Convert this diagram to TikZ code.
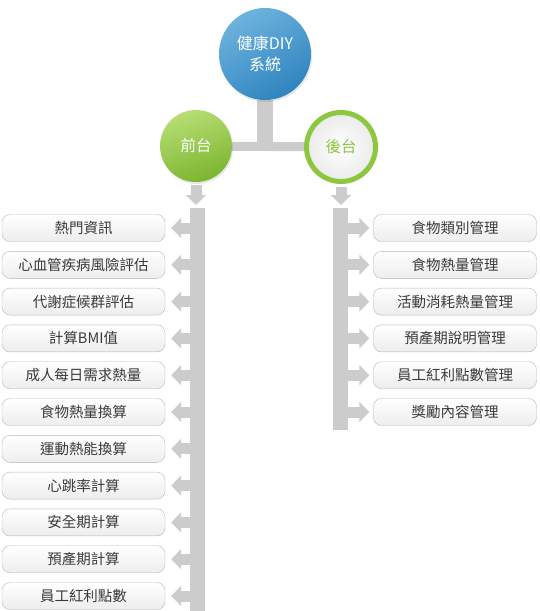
\documentclass[tikz,border=0pt]{standalone}
\usepackage{fontspec}
\setmainfont{Noto Sans CJK TC}
\usetikzlibrary{arrows.meta,shadows,backgrounds}
\definecolor{sysblue}{HTML}{6DB3DD}
\definecolor{sysbluedark}{HTML}{2F84C0}
\definecolor{greenlight}{HTML}{B7DE74}
\definecolor{greendark}{HTML}{7AB52F}
\definecolor{ringgreen}{HTML}{8DC63F}
\definecolor{bargray}{HTML}{CCCCCC}
\definecolor{boxgray}{HTML}{B5B5B5}
\definecolor{textgray}{HTML}{3A3A3A}

\tikzset{
	menubox/.style={draw=boxgray, rounded corners=8pt, minimum width=163pt, minimum height=27pt,
		inner sep=0pt, top color=white, bottom color=black!7, text=textgray,
		font=\fontsize{14.5}{15}\selectfont},
	barline/.style={draw=bargray, line width=15pt},
	blockarrow/.style={draw=bargray, line width=11pt, -{Triangle[width=20pt,length=10pt]}},
}

\begin{document}
\begin{tikzpicture}[x=1pt,y=-1pt,every node/.style={black}]
	\useasboundingbox (0,0) rectangle (539,611);

	% circles
	\node[circle, minimum size=92pt, inner sep=0pt, top color=sysblue, bottom color=sysbluedark,
		shading angle=30, text=white, align=center, font=\fontsize{16}{21}\selectfont,
		drop shadow={shadow xshift=1pt, shadow yshift=-2pt, opacity=0.2}]
		(sys) at (265,54) {健康DIY\\系統};
	\node[circle, minimum size=72pt, inner sep=0pt, top color=greenlight, bottom color=greendark,
		shading angle=20, text=white, font=\fontsize{15.5}{16}\selectfont,
		drop shadow={shadow xshift=1pt, shadow yshift=-2pt, opacity=0.2}]
		(fore) at (196,146) {前台};
	\node[circle, minimum size=69pt, inner sep=0pt, draw=ringgreen, line width=5pt,
		inner color=white, outer color=black!8, text=ringgreen, font=\fontsize{15.5}{16}\selectfont,
		drop shadow={shadow xshift=1pt, shadow yshift=-2pt, opacity=0.2}]
		(back) at (341,147) {後台};

	\coordinate (ltop) at (197.5,208);
	\coordinate (lbot) at (197.5,611);
	\coordinate (rtop) at (340.5,208);
	\coordinate (rbot) at (340.5,430);

	% menu boxes
	\foreach \txt [count=\i] in {熱門資訊,心血管疾病風險評估,代謝症候群評估,計算BMI值,成人每日需求熱量,
		食物熱量換算,運動熱能換算,心跳率計算,安全期計算,預產期計算,員工紅利點數}
		\node[menubox] (f\i) at (83.5,191.2+36.8*\i) {\txt};
	\foreach \txt [count=\i] in {食物類別管理,食物熱量管理,活動消耗熱量管理,預產期說明管理,
		員工紅利點數管理,獎勵內容管理}
		\node[menubox] (b\i) at (455,191.2+36.8*\i) {\txt};

	\begin{scope}[on background layer]
		\draw[bargray, line width=16pt] (sys.south) -- (sys.south |- fore);
		\draw[bargray, line width=9pt] (fore) -- (back);
	\end{scope}

	\draw[blockarrow, shorten <=3pt, shorten >=3pt] (fore.south) -- (fore.south |- ltop);
	\draw[blockarrow, shorten <=3pt, shorten >=3pt] (back.south) -- (back.south |- rtop);

	\draw[barline] (ltop) -- (lbot);
	\draw[barline] (rtop) -- (rbot);

	\foreach \i in {1,...,11}
		\draw[blockarrow, shorten >=6pt] (ltop |- f\i.east) -- (f\i.east);
	\foreach \i in {1,...,6}
		\draw[blockarrow, shorten >=4pt] (rtop |- b\i.west) -- (b\i.west);
\end{tikzpicture}
\end{document}
